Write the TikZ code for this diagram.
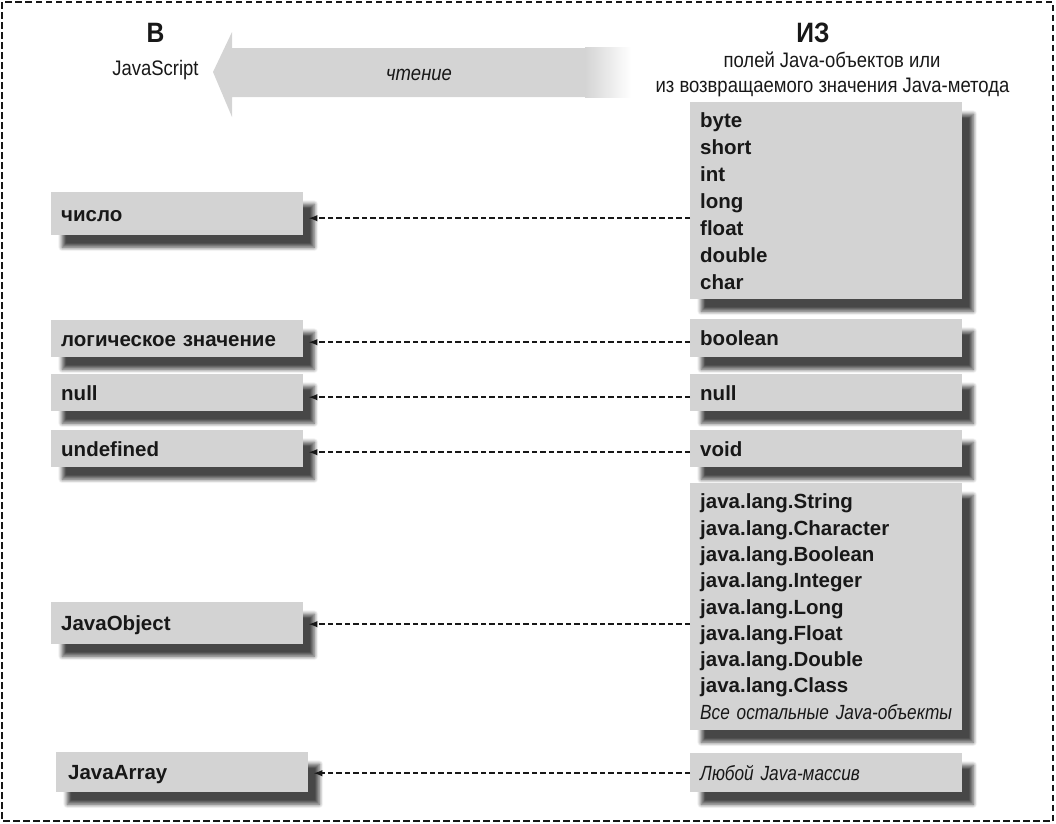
\documentclass[tikz,border=0pt]{standalone}
\usepackage{fontspec}
\setmainfont{Liberation Sans}
\newfontfamily\cond[FakeStretch=0.88]{Liberation Sans}
\newfontfamily\condi[FakeStretch=0.84]{Liberation Sans}
\usetikzlibrary{arrows.meta,shadows.blur}
\definecolor{boxgray}{HTML}{D3D3D3}
\definecolor{arrowgray}{HTML}{D4D4D4}
\definecolor{ink}{HTML}{181818}
\begin{document}
\begin{tikzpicture}[x=1pt,y=-1pt,
  every node/.style={text=ink},
  box/.style={fill=boxgray, anchor=north west, inner xsep=10pt, inner ysep=0pt, align=left,
    font=\fontsize{20.5}{27}\selectfont\bfseries,
    blur shadow={shadow xshift=11pt, shadow yshift=-12pt, shadow blur radius=4pt, shadow blur steps=6, shadow opacity=72}},
  lbox/.style={box, minimum width=252pt, text width=232pt, text height=15pt, text depth=0pt},
  rbox/.style={box, minimum width=272pt, text width=252pt},
  rline/.style={rbox, text height=15pt, text depth=0pt},
  conn/.style={draw=ink, line width=1.5pt, dash pattern=on 5.5pt off 3pt, -{Latex[length=9pt,width=6.5pt]}},
  head/.style={font=\cond\fontsize{21}{24}\selectfont, anchor=base, inner sep=0pt},
  bighead/.style={font=\cond\fontsize{28}{30}\selectfont\bfseries, anchor=base, inner sep=0pt},
]
\useasboundingbox (0,0) rectangle (1056,823);
\draw[draw=ink, line width=2.6pt, dash pattern=on 6.5pt off 3.5pt] (2,2) rectangle (1053,821);

% big reading arrow
\fill[arrowgray] (213,72) -- (232,32) -- (232,48) -- (630,48) -- (630,97) -- (232,97) -- (232,117) -- cycle;
\shade[left color=arrowgray, right color=white] (585,47.5) rectangle (631,97.5);

\node[bighead] (inB) at (155.5,42) {В};
\node[head] (js) at (155.5,75) {JavaScript};
\node[head, font=\cond\fontsize{21}{24}\selectfont\itshape] (read) at (419,80) {чтение};
\node[bighead] (fromZ) at (813,42) {ИЗ};
\node[head] (h1) at (832,67) {полей Java-объектов или};
\node[head] (h2) at (832.5,92) {из возвращаемого значения Java-метода};

% right boxes
\node[rbox, minimum height=197pt] (R1) at (690,102) {byte\\short\\int\\long\\float\\double\\char};
\node[rline, minimum height=38pt] (Rbool) at (690,319) {boolean};
\node[rline, minimum height=37pt] (Rnull) at (690,374) {null};
\node[rline, minimum height=37pt] (Rvoid) at (690,430) {void};
\node[rbox, minimum height=247pt, font=\fontsize{20.5}{26.3}\selectfont\bfseries] (Rjava) at (690,483)
  {java.lang.String\\java.lang.Character\\java.lang.Boolean\\java.lang.Integer\\java.lang.Long\\java.lang.Float\\java.lang.Double\\java.lang.Class\\\mbox{\condi\mdseries\itshape Все остальные Java-объекты}};
\node[rline, minimum height=39pt] (Rany) at (690,753) {\mbox{\condi\mdseries\itshape Любой Java-массив}};

% left boxes
\node[lbox, minimum height=43pt] (Lnum) at (51,192) {число};
\node[lbox, minimum height=37pt] (Llog) at (51,320) {логическое значение};
\node[lbox, minimum height=37pt] (Lnull) at (51,374) {null};
\node[lbox, minimum height=37pt] (Lund) at (51,430) {undefined};
\node[lbox, minimum height=42pt] (Ljo) at (51,602) {JavaObject};
\node[lbox, minimum height=40pt, inner xsep=12pt, text width=228pt] (Lja) at (56,752) {JavaArray};

% connectors
\coordinate (a1) at ([yshift=-4.5pt]Lnum.east);
\coordinate (a2) at ([yshift=-3.5pt]Llog.east);
\coordinate (a3) at ([yshift=-4.5pt]Lnull.east);
\coordinate (a4) at ([yshift=-3.5pt]Lund.east);
\coordinate (a5) at ([yshift=-1pt]Ljo.east);
\coordinate (a6) at ([yshift=-1pt]Lja.east);
\draw[conn] (a1 -| R1.west) -- ([xshift=5pt]a1);
\draw[conn] (a2 -| Rbool.west) -- ([xshift=5pt]a2);
\draw[conn] (a3 -| Rnull.west) -- ([xshift=5pt]a3);
\draw[conn] (a4 -| Rvoid.west) -- ([xshift=5pt]a4);
\draw[conn] (a5 -| Rjava.west) -- ([xshift=5pt]a5);
\draw[conn] (a6 -| Rany.west) -- ([xshift=5pt]a6);
\end{tikzpicture}
\end{document}
